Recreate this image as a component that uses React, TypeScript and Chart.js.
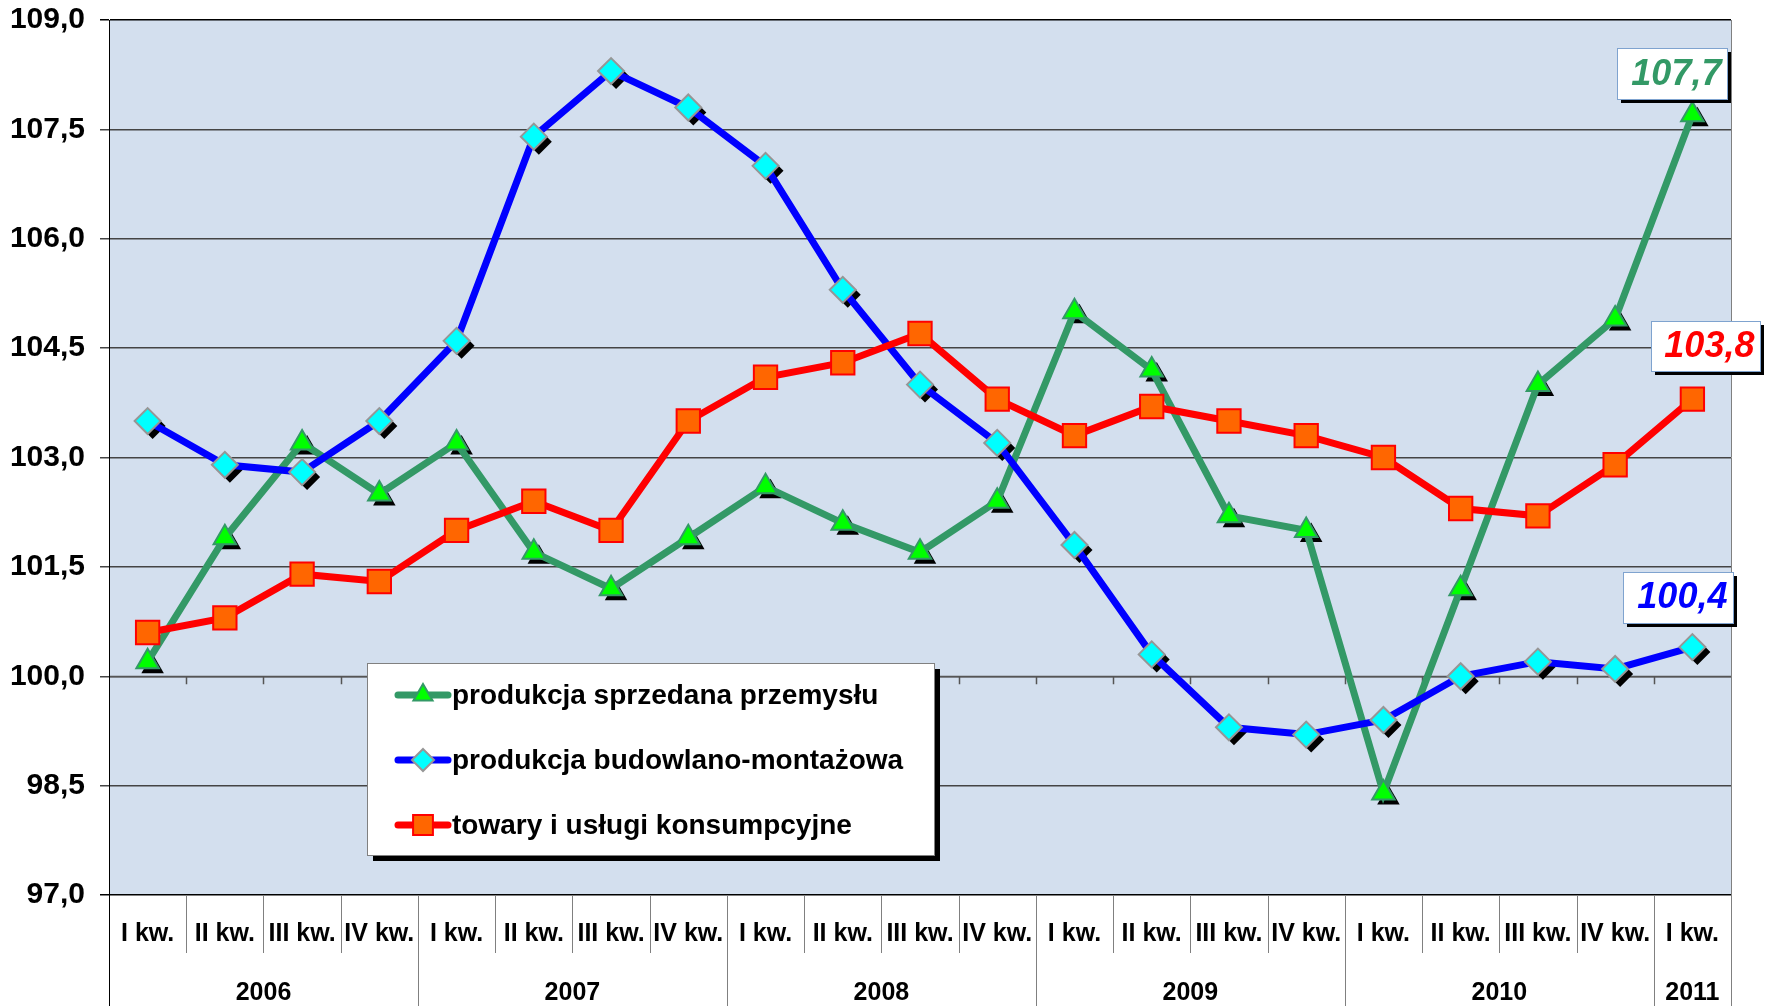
import React, { useEffect, useRef } from "react";
import { Chart, registerables } from "chart.js";

Chart.register(...registerables);

const quarters = [
  "I kw.", "II kw.", "III kw.", "IV kw.",
  "I kw.", "II kw.", "III kw.", "IV kw.",
  "I kw.", "II kw.", "III kw.", "IV kw.",
  "I kw.", "II kw.", "III kw.", "IV kw.",
  "I kw.", "II kw.", "III kw.", "IV kw.",
  "I kw.",
];
const years = ["2006", "2007", "2008", "2009", "2010", "2011"];
const yearSpans = [4, 4, 4, 4, 4, 1];

const seriesNames = [
  "produkcja sprzedana przemysłu",
  "produkcja budowlano-montażowa",
  "towary i usługi konsumpcyjne",
];

const industry = [
  100.2, 101.9, 103.2, 102.5, 103.2, 101.7, 101.2, 101.9, 102.6, 102.1, 101.7,
  102.4, 105.0, 104.2, 102.2, 102.0, 98.4, 101.2, 104.0, 104.9, 107.7,
];
const construction = [
  103.5, 102.9, 102.8, 103.5, 104.6, 107.4, 108.3, 107.8, 107.0, 105.3, 104.0,
  103.2, 101.8, 100.3, 99.3, 99.2, 99.4, 100.0, 100.2, 100.1, 100.4,
];
const consumer = [
  100.6, 100.8, 101.4, 101.3, 102.0, 102.4, 102.0, 103.5, 104.1, 104.3, 104.7,
  103.8, 103.3, 103.7, 103.5, 103.3, 103.0, 102.3, 102.2, 102.9, 103.8,
];

const yMin = 97;
const yMax = 109;
const yStep = 1.5;
const axisCross = 100;

const FONT = "'Liberation Sans', Arial, sans-serif";
const NARROW = "'Liberation Sans Narrow', 'Arial Narrow', 'Liberation Sans', Arial, sans-serif";

const fmt = (v: number) => v.toFixed(1).replace(".", ",");

function drawShape(ctx: CanvasRenderingContext2D, style: string, x: number, y: number, r: number) {
  ctx.beginPath();
  if (style === "triangle") {
    let rad = 0;
    ctx.moveTo(x + Math.sin(rad) * r, y - Math.cos(rad) * r);
    rad += (2 * Math.PI) / 3;
    ctx.lineTo(x + Math.sin(rad) * r, y - Math.cos(rad) * r);
    rad += (2 * Math.PI) / 3;
    ctx.lineTo(x + Math.sin(rad) * r, y - Math.cos(rad) * r);
  } else if (style === "rectRot") {
    ctx.moveTo(x, y - r);
    ctx.lineTo(x + r, y);
    ctx.lineTo(x, y + r);
    ctx.lineTo(x - r, y);
  } else {
    const s = Math.SQRT1_2 * r;
    ctx.rect(x - s, y - s, 2 * s, 2 * s);
  }
  ctx.closePath();
}

const valueBoxes = [
  { ds: 0, dx: -20, dy: -41, w: 110, h: 51, color: "#339966" },
  { ds: 2, dx: 13, dy: -53, w: 109, h: 50, color: "#FF0000" },
  { ds: 1, dx: -14, dy: -50, w: 110, h: 51, color: "#0000FF" },
];

const decorPlugin = {
  id: "decor",
  beforeDraw(chart: any) {
    const { ctx, chartArea: a } = chart;
    ctx.save();
    ctx.fillStyle = "#D3DFEE";
    ctx.fillRect(a.left, a.top, a.right - a.left, a.bottom - a.top);
    ctx.restore();
  },
  beforeDatasetsDraw(chart: any) {
    const { ctx, chartArea: a } = chart;
    const xs = chart.scales.x;
    const ys = chart.scales.y;
    const half = (xs.getPixelForValue(1) - xs.getPixelForValue(0)) / 2;
    const y0 = ys.getPixelForValue(axisCross);
    ctx.save();
    ctx.strokeStyle = "#555555";
    ctx.lineWidth = 1.5;
    ctx.beginPath();
    ctx.moveTo(a.left, Math.round(y0) + 0.5);
    ctx.lineTo(a.right, Math.round(y0) + 0.5);
    for (let i = 1; i < quarters.length; i++) {
      const x = Math.round(xs.getPixelForValue(i) - half) + 0.5;
      ctx.moveTo(x, y0);
      ctx.lineTo(x, y0 + 8);
    }
    ctx.stroke();
    chart.data.datasets.forEach((ds: any, i: number) => {
      if (!ds.shadow) return;
      const meta = chart.getDatasetMeta(i);
      ctx.fillStyle = "#000";
      meta.data.forEach((pt: any) => {
        drawShape(ctx, ds.pointStyle, pt.x + 5, pt.y + 5, ds.pointRadius);
        ctx.fill();
      });
    });
    ctx.restore();
  },
  afterDraw(chart: any) {
    const { ctx, chartArea: a } = chart;
    const xs = chart.scales.x;
    const half = (xs.getPixelForValue(1) - xs.getPixelForValue(0)) / 2;
    const H = chart.height;
    ctx.save();
    ctx.strokeStyle = "#808080";
    ctx.lineWidth = 1;
    ctx.beginPath();
    let idx = 0;
    const yearStarts: number[] = [];
    yearSpans.forEach((s) => {
      yearStarts.push(idx);
      idx += s;
    });
    for (let i = 0; i <= quarters.length; i++) {
      const x = Math.round(xs.getPixelForValue(i) - half) + 0.5;
      const isYear = yearStarts.includes(i) || i === quarters.length;
      ctx.moveTo(x, a.bottom);
      ctx.lineTo(x, isYear ? H : a.bottom + 58);
    }
    ctx.stroke();
    ctx.beginPath();
    ctx.moveTo(Math.round(a.right) + 0.5, a.top);
    ctx.lineTo(Math.round(a.right) + 0.5, a.bottom);
    ctx.stroke();
    ctx.strokeStyle = "#000";
    ctx.beginPath();
    ctx.moveTo(Math.round(a.left) + 0.5, a.top);
    ctx.lineTo(Math.round(a.left) + 0.5, H);
    ctx.stroke();

    ctx.fillStyle = "#000";
    ctx.textAlign = "center";
    ctx.textBaseline = "middle";
    ctx.font = `bold 25px ${NARROW}`;
    quarters.forEach((q, i) => {
      ctx.fillText(q, xs.getPixelForValue(i), a.bottom + 39);
    });
    years.forEach((y, k) => {
      const s = yearStarts[k];
      const e = s + yearSpans[k] - 1;
      const cx = (xs.getPixelForValue(s) + xs.getPixelForValue(e)) / 2;
      ctx.fillText(y, cx, a.bottom + 98);
    });

    const L = { x: 367, y: 663, w: 567, h: 192 };
    ctx.fillStyle = "#000";
    ctx.fillRect(L.x + 6, L.y + 6, L.w, L.h);
    ctx.fillStyle = "#fff";
    ctx.fillRect(L.x, L.y, L.w, L.h);
    ctx.strokeStyle = "#808080";
    ctx.lineWidth = 1;
    ctx.strokeRect(L.x + 0.5, L.y + 0.5, L.w, L.h);
    const rows = [695, 760, 825];
    chart.data.datasets.forEach((ds: any, i: number) => {
      const ry = rows[i];
      ctx.strokeStyle = ds.borderColor;
      ctx.lineWidth = 7;
      ctx.lineCap = "round";
      ctx.beginPath();
      ctx.moveTo(398, ry);
      ctx.lineTo(448, ry);
      ctx.stroke();
      ctx.lineCap = "butt";
      drawShape(ctx, ds.pointStyle, 423, ry, ds.pointRadius * 0.85);
      ctx.fillStyle = ds.pointBackgroundColor;
      ctx.fill();
      ctx.strokeStyle = ds.pointBorderColor;
      ctx.lineWidth = ds.pointBorderWidth;
      ctx.stroke();
      ctx.fillStyle = "#000";
      ctx.textAlign = "left";
      ctx.textBaseline = "middle";
      ctx.font = `bold 28px ${FONT}`;
      ctx.fillText(ds.label, 452, ry + 1);
    });

    valueBoxes.forEach((b) => {
      const meta = chart.getDatasetMeta(b.ds);
      const pts = meta.data;
      const pt = pts[pts.length - 1];
      const vals = chart.data.datasets[b.ds].data;
      const cx = pt.x + b.dx;
      const cy = pt.y + b.dy;
      const bx = Math.round(cx - b.w / 2);
      const by = Math.round(cy - b.h / 2);
      ctx.fillStyle = "#000";
      ctx.fillRect(bx + 4, by + 4, b.w, b.h);
      ctx.fillStyle = "#fff";
      ctx.fillRect(bx, by, b.w, b.h);
      ctx.strokeStyle = "#7FA3CF";
      ctx.lineWidth = 1;
      ctx.strokeRect(bx + 0.5, by + 0.5, b.w, b.h);
      ctx.fillStyle = b.color;
      ctx.textAlign = "center";
      ctx.textBaseline = "middle";
      ctx.font = `italic bold 36px ${FONT}`;
      ctx.fillText(fmt(vals[vals.length - 1]), cx + 4, cy + 1);
    });
    ctx.restore();
  },
};

export default function App() {
  const ref = useRef<HTMLCanvasElement | null>(null);
  useEffect(() => {
    if (!ref.current) return;
    const chart = new Chart(ref.current, {
      type: "line",
      data: {
        labels: quarters,
        datasets: [
          {
            label: seriesNames[0],
            data: industry,
            borderColor: "#339966",
            borderWidth: 7,
            pointStyle: "triangle",
            pointRadius: 13,
            pointBackgroundColor: "#00FF00",
            pointBorderColor: "#339966",
            pointBorderWidth: 2,
            order: 2,
            shadow: true,
          } as any,
          {
            label: seriesNames[1],
            data: construction,
            borderColor: "#0000FF",
            borderWidth: 7,
            pointStyle: "rectRot",
            pointRadius: 13,
            pointBackgroundColor: "#00FFFF",
            pointBorderColor: "#969696",
            pointBorderWidth: 2,
            order: 1,
            shadow: true,
          } as any,
          {
            label: seriesNames[2],
            data: consumer,
            borderColor: "#FF0000",
            borderWidth: 7,
            pointStyle: "rect",
            pointRadius: 16.5,
            pointBackgroundColor: "#FF6600",
            pointBorderColor: "#FF0000",
            pointBorderWidth: 2,
            order: 0,
            shadow: false,
          } as any,
        ],
      },
      options: {
        animation: false,
        responsive: true,
        maintainAspectRatio: false,
        layout: { padding: { top: 20, right: 39, left: 0, bottom: 0 } },
        plugins: {
          legend: { display: false },
          tooltip: { enabled: false },
        },
        scales: {
          x: {
            type: "category",
            offset: true,
            grid: { display: false, drawTicks: false },
            border: { display: false },
            ticks: { display: false },
            afterFit: (s: any) => {
              s.height = 111;
              s.paddingLeft = 0;
              s.paddingRight = 0;
            },
          },
          y: {
            min: yMin,
            max: yMax,
            border: { display: true, color: "#000", width: 1 },
            grid: {
              color: (c: any) =>
                c.tick && (c.tick.value === yMax || c.tick.value === yMin) ? "#000" : "#444444",
              lineWidth: 1.5,
              tickLength: 9,
              drawTicks: true,
            },
            ticks: {
              stepSize: yStep,
              padding: 15,
              color: "#000",
              font: { family: FONT, size: 30, weight: "bold" },
              callback: (v: any) => fmt(Number(v)),
            },
            afterFit: (s: any) => {
              s.width = 109;
              s.paddingTop = 0;
              s.paddingBottom = 0;
            },
          },
        },
      },
      plugins: [decorPlugin],
    });
    return () => chart.destroy();
  }, []);
  return (
    <div style={{ position: "absolute", left: 0, top: 0, width: 1770, height: 1006 }}>
      <canvas ref={ref} />
    </div>
  );
}
